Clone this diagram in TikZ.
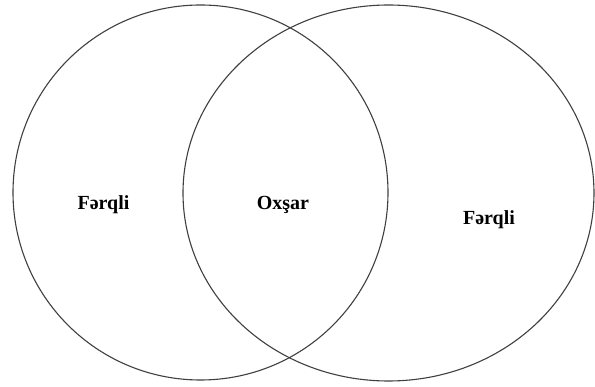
\documentclass[tikz,border=0pt]{standalone}
\usepackage{fontspec}
\setmainfont{Liberation Serif}
\begin{document}
\begin{tikzpicture}[x=1pt,y=-1pt,
  setline/.style={draw=black!75,line width=1.1pt},
  lbl/.style={anchor=base,inner sep=0pt,font=\bfseries\fontsize{20}{24}\selectfont}]
\useasboundingbox (0,0) rectangle (595,387);
\fill[white] (0,0) rectangle (595,387);
\draw[setline] (200.5,192.5) circle [radius=187.5];
\draw[setline] (388.5,193) ellipse [x radius=205.5, y radius=188];
\node[lbl] (left) at (103.5,210) {Fərqli};
\node[lbl] (mid) at (283,210) {Oxşar};
\node[lbl] (right) at (489,225) {Fərqli};
\end{tikzpicture}
\end{document}
